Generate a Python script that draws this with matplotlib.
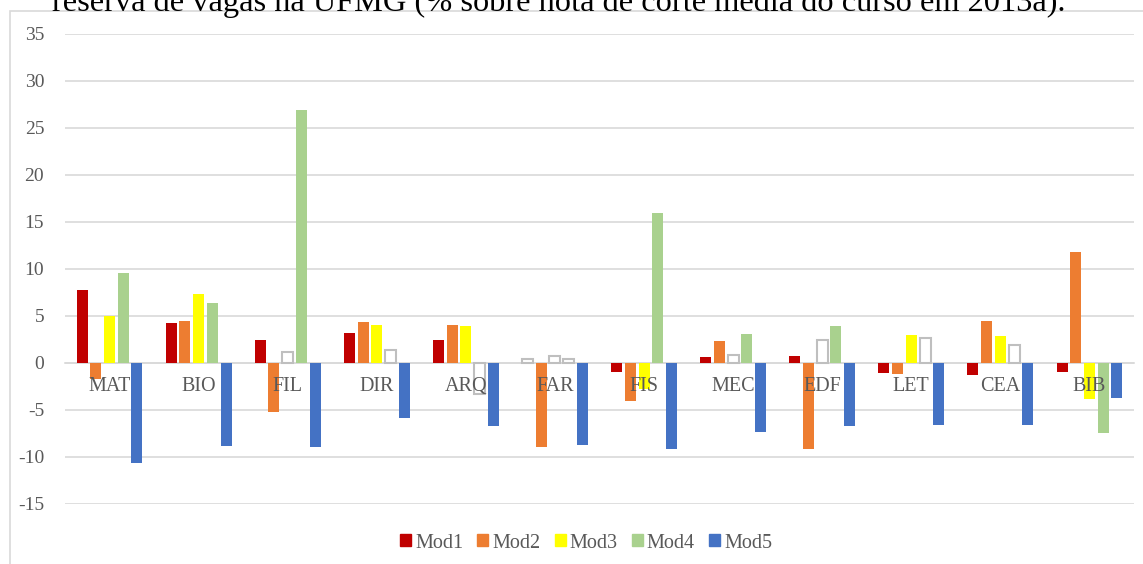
import matplotlib.pyplot as plt
import numpy as np
from matplotlib.patches import Patch, Rectangle

plt.rcParams['axes.unicode_minus'] = False

# --- data: difference per course and modality (%) ---
courses = ['MAT', 'BIO', 'FIL', 'DIR', 'ARQ', 'FAR', 'FIS', 'MEC', 'EDF', 'LET', 'CEA', 'BIB']
mod1 = [7.8, 4.2, 2.4, 3.2, 2.4, 0.4, -1.0, 0.65, 0.75, -1.05, -1.3, -0.95]
mod2 = [-1.7, 4.5, -5.2, 4.4, 4.0, -8.9, -4.0, 2.3, -9.1, -1.15, 4.5, 11.75]
mod3 = [5.0, 7.3, 1.2, 4.0, 3.9, 0.7, -2.8, 0.8, 2.4, 3.0, 2.9, -3.85]
mod4 = [9.6, 6.4, 26.9, 1.35, -3.3, 0.45, 15.9, 3.1, 3.9, 2.7, 1.9, -7.4]
mod5 = [-10.6, -8.8, -8.9, -5.9, -6.7, -8.7, -9.2, -7.3, -6.75, -6.6, -6.55, -3.7]
series_names = ['Mod1', 'Mod2', 'Mod3', 'Mod4', 'Mod5']

# courses where the value is drawn as an empty (white) bar
hollow1 = ['FAR']
hollow2 = []
hollow3 = ['FIL', 'FAR', 'MEC', 'EDF']
hollow4 = ['DIR', 'ARQ', 'FAR', 'LET', 'CEA']
hollow5 = []

colors = ['#C00000', '#ED7D31', '#FFFF00', '#A9D18E', '#4472C4']
GRID = '#D9D9D9'
TXT = '#595959'
SERIF = ['Liberation Serif', 'DejaVu Serif']

W, H = 1143, 564
fig = plt.figure(figsize=(W / 100, H / 100), dpi=100)
fig.patch.set_facecolor('white')

# chart border (partially outside the canvas)
fig.patches.append(Rectangle((10 / W, -0.05), 1.2, 1 - 11 / H + 0.05,
                             transform=fig.transFigure, facecolor='none',
                             edgecolor=GRID, linewidth=1.2))

ax = fig.add_axes([65 / W, 1 - 504 / H, (1134 - 65) / W, (504 - 33.7) / H])

x = np.arange(len(courses))
step, width = 0.154, 0.1235
all_vals = [mod1, mod2, mod3, mod4, mod5]
all_hollow = [hollow1, hollow2, hollow3, hollow4, hollow5]
for k, (vals, hol, col) in enumerate(zip(all_vals, all_hollow, colors)):
    face = ['white' if c in hol else col for c in courses]
    edge = ['#BFBFBF' if c in hol else col for c in courses]
    lw = [1.5 if c in hol else 0 for c in courses]
    ax.bar(x + (k - 2) * step, vals, width=width, color=face,
           edgecolor=edge, linewidth=lw, zorder=2)

ax.set_xlim(-0.5, len(courses) - 0.5)
ax.set_ylim(-15, 35)
ax.set_yticks(np.arange(-15, 36, 5))
ax.yaxis.grid(True, color=GRID, linewidth=1.2)
ax.set_axisbelow(True)
# course names sit on top of the bars
ax.xaxis.set_zorder(5)

# category axis crosses at zero
ax.spines['bottom'].set_position(('data', 0))
ax.spines['bottom'].set_color(GRID)
ax.spines['bottom'].set_linewidth(1.2)
ax.spines['bottom'].set_zorder(1)
for s in ['left', 'right', 'top']:
    ax.spines[s].set_visible(False)
ax.set_xticks(x)
ax.set_xticklabels(courses)
ax.tick_params(axis='x', length=0, pad=10, labelsize=14.5, labelcolor=TXT)
ax.tick_params(axis='y', length=0, pad=15, labelsize=14, labelcolor=TXT)
for lab in ax.get_xticklabels() + ax.get_yticklabels():
    lab.set_family(SERIF)

# title strip (top part falls outside the canvas)
fig.text(52 / W, 1 - 11 / H,
         'reserva de vagas na UFMG (% sobre nota de corte média do curso em 2013a).',
         family=SERIF, fontsize=23.3, color='black',
         ha='left', va='baseline')

handles = [Patch(facecolor=c, edgecolor=c) for c in colors]
leg = fig.legend(handles, series_names, loc='center', bbox_to_anchor=(586 / W, 1 - 543 / H),
                 ncol=5, frameon=False, handlelength=0.55, handleheight=0.55,
                 handletextpad=0.2, columnspacing=0.7,
                 prop={'family': SERIF, 'size': 14.5})
for t in leg.get_texts():
    t.set_color(TXT)

fig.savefig('out.png', dpi=100, facecolor='white')
